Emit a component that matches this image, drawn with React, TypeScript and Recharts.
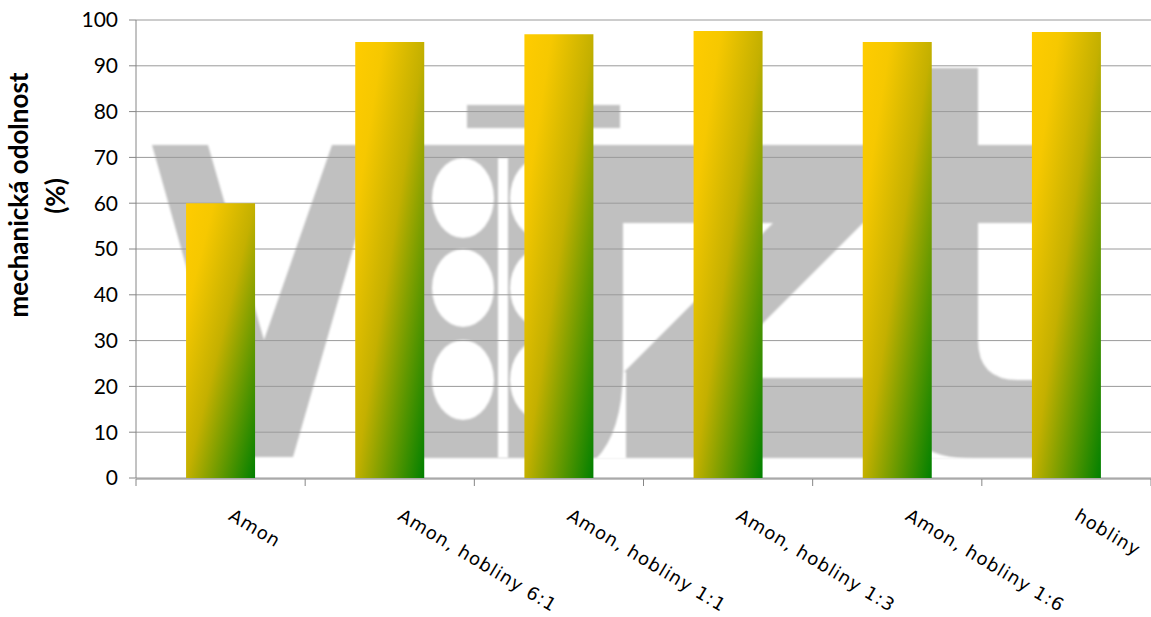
import { Bar, BarChart, CartesianGrid, XAxis, YAxis } from 'recharts';

const categories = [
  'Amon',
  'Amon, hobliny 6:1',
  'Amon, hobliny 1:1',
  'Amon, hobliny 1:3',
  'Amon, hobliny 1:6',
  'hobliny',
];
const resistance = [60, 95.2, 96.9, 97.6, 95.2, 97.4];
const yTicks = [0, 10, 20, 30, 40, 50, 60, 70, 80, 90, 100];
const edgeTicks = [0, 1, 2, 3, 4, 5, 6];

const data = categories.map((name, i) => ({ name, slot: i + 0.5, value: resistance[i] }));

const axisColor = '#868686';

function CategoryTick(props: any) {
  const { x, payload } = props;
  const tx = x + 7;
  const ty = 519;
  return (
    <text
      x={tx}
      y={ty}
      transform={`rotate(31 ${tx} ${ty})`}
      fontFamily="'DejaVu Sans', sans-serif"
      fontSize={18}
      letterSpacing={1}
      fill="#000"
    >
      {payload.value}
    </text>
  );
}

function AxisTitle() {
  return (
    <g fontFamily="Lato, sans-serif" fontWeight="bold" fontSize={26} fill="#000">
      <text x={28} y={195} transform="rotate(-90 28 195)" textAnchor="middle">
        mechanická odolnost
      </text>
      <text x={65} y={196} transform="rotate(-90 65 196)" textAnchor="middle">
        (%)
      </text>
    </g>
  );
}

// faded logo in the background of the plot
function Watermark() {
  return (
    <svg width={1151} height={617} style={{ position: 'absolute', left: 0, top: 0 }}>
      <defs>
        <filter id="soft">
          <feGaussianBlur stdDeviation="0.8" />
        </filter>
      </defs>
      <g filter="url(#soft)" fill="#c0c0c0">
        <polygon points="152,145 208,145 264,340 332,145 383,145 293,457 240,457" />
        <rect x={467} y={105} width={153} height={23} />
        <rect x={420} y={145} width={512} height={313} />
        <rect x={900} y={68} width={78} height={390} />
        <rect x={978} y={145} width={82} height={78} />
        <rect x={978} y={380} width={82} height={78} />
        <path d="M978,340 Q978,380 1018,380 L978,380 Z" />
      </g>
      <g filter="url(#soft)" fill="#ffffff">
        <ellipse cx={463} cy={198} rx={31} ry={40} />
        <ellipse cx={463} cy={288} rx={31} ry={39} />
        <ellipse cx={463} cy={380} rx={31} ry={40} />
        <ellipse cx={541} cy={198} rx={31} ry={40} />
        <ellipse cx={541} cy={288} rx={31} ry={39} />
        <ellipse cx={541} cy={380} rx={31} ry={40} />
        <rect x={498} y={158} width={10} height={300} />
        <polygon points="623,223 773,223 623,373" />
        <polygon points="863,223 900,223 900,378 708,378" />
        <path d="M623,372 Q622,432 596,459 L626,459 L626,372 Z" />
        <path d="M895,395 Q900,459 975,459 L895,459 Z" />
      </g>
    </svg>
  );
}

export default function App() {
  return (
    <div style={{ position: 'absolute', left: 0, top: 0, width: 1151, height: 617, background: '#fff' }}>
      <Watermark />
      <div style={{ position: 'absolute', left: 0, top: 0 }}>
        <BarChart
          width={1151}
          height={617}
          data={data}
          margin={{ top: 20, right: 0, bottom: 130, left: 0 }}
          barCategoryGap="29.6%"
        >
          <defs>
            <linearGradient id="barFill" x1="0" y1="0" x2="1" y2="1">
              <stop offset="0" stopColor="#FFCC00" />
              <stop offset="0.2" stopColor="#F6C800" />
              <stop offset="0.5" stopColor="#C4B000" />
              <stop offset="1" stopColor="#008000" />
            </linearGradient>
          </defs>
          <CartesianGrid xAxisId="cat" vertical={false} stroke="#9a9a9a" />
          <XAxis
            xAxisId="edge"
            dataKey="slot"
            type="number"
            scale="linear"
            domain={[0, categories.length]}
            allowDataOverflow
            ticks={edgeTicks}
            height={8}
            tick={() => <g />}
            tickSize={7}
            axisLine={{ stroke: axisColor }}
            tickLine={{ stroke: axisColor }}
          />
          <XAxis
            xAxisId="cat"
            dataKey="name"
            height={1}
            axisLine={false}
            tickLine={false}
            interval={0}
            tick={<CategoryTick />}
          />
          <YAxis
            width={136}
            domain={[0, 100]}
            ticks={yTicks}
            interval={0}
            tickSize={7}
            tickMargin={11}
            axisLine={{ stroke: axisColor }}
            tickLine={{ stroke: axisColor }}
            tick={{ fontFamily: 'Lato, sans-serif', fontSize: 21, fill: '#000' }}
            label={{ content: () => <AxisTitle /> }}
          />
          <Bar xAxisId="cat" dataKey="value" fill="url(#barFill)" isAnimationActive={false} />
        </BarChart>
      </div>
    </div>
  );
}
